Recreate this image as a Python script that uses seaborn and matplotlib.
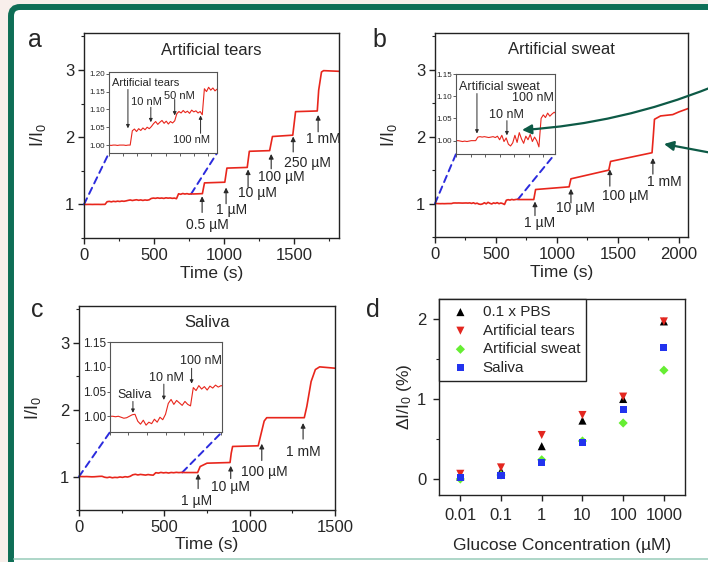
import numpy as np
import pandas as pd
import matplotlib
matplotlib.use("Agg")
import matplotlib.pyplot as plt
import matplotlib.transforms as mtransforms
from matplotlib.patches import FancyBboxPatch, ConnectionPatch, FancyArrowPatch
from matplotlib.ticker import MultipleLocator, NullFormatter, FormatStrFormatter, FixedLocator
import seaborn as sns

# ---------------- data ----------------
# Panel a : artificial tears (time in s, I/I0)
a_low_t = list(range(0, 766, 15))
a_low_y = [1.000, 0.999, 1.000, 1.000, 0.999, 1.000, 1.000, 1.000, 0.999, 1.000, 1.000,
           1.040, 1.045, 1.038, 1.046, 1.041, 1.048, 1.043, 1.050, 1.046, 1.052,
           1.060, 1.066, 1.058, 1.064, 1.069, 1.061, 1.067, 1.059, 1.066, 1.062, 1.068,
           1.088, 1.094, 1.090, 1.097, 1.091, 1.095, 1.089, 1.098, 1.093, 1.096, 1.090, 1.094, 1.085,
           1.158, 1.150, 1.162, 1.154, 1.160, 1.152, 1.157]
a_high_t = [780, 845, 860, 1005, 1020, 1165, 1180, 1325, 1345, 1490, 1510, 1665, 1675, 1695, 1710, 1820]
a_high_y = [1.155, 1.16, 1.32, 1.33, 1.54, 1.55, 1.79, 1.80, 2.01, 2.03, 2.38, 2.39, 2.70, 2.97, 2.99, 2.98]

# Panel b : artificial sweat
b_low_t = list(range(0, 676, 15))
b_low_y = [1.000, 1.000, 0.999, 0.998, 0.999, 0.998, 0.999, 1.000, 1.000, 1.000,
           1.008, 1.009, 1.008, 1.009, 1.008, 1.007, 1.008, 1.009, 1.007,
           1.010, 1.002, 1.012, 0.998, 1.006,
           0.992, 0.988, 0.995,
           1.012, 0.996, 1.018, 1.004, 0.994, 1.010, 1.002, 1.014, 0.998, 1.008, 1.000, 0.986,
           1.050, 1.058, 1.052, 1.062, 1.055, 1.060, 1.064]
b_high_t = [690, 810, 825, 1100, 1115, 1425, 1440, 1780, 1790, 1800, 1850, 1950, 2000, 2075]
b_high_y = [1.060, 1.06, 1.21, 1.25, 1.37, 1.50, 1.63, 1.76, 2.00, 2.26, 2.31, 2.33, 2.37, 2.42]

# Panel c : saliva
c_low_t = list(range(0, 601, 15))
c_low_y = [1.000, 1.000, 0.999, 1.000, 0.998, 0.996, 0.997, 1.000,
           1.003, 1.004,
           0.990, 0.984, 0.992, 0.982, 0.988, 0.985, 0.994, 0.988, 0.998, 0.993, 1.004,
           1.026, 1.034, 1.024, 1.032, 1.027, 1.022, 1.030, 1.024, 1.021,
           1.058, 1.052, 1.062, 1.055, 1.060, 1.053, 1.061, 1.057, 1.063, 1.059, 1.062]
c_high_t = [620, 695, 710, 750, 885, 892, 900, 1050, 1065, 1085, 1100, 1320, 1335, 1360, 1385, 1410, 1500]
c_high_y = [1.06, 1.06, 1.15, 1.20, 1.21, 1.35, 1.45, 1.46, 1.62, 1.83, 1.88, 1.88, 2.05, 2.42, 2.60, 2.64, 2.62]

# Panel d : calibration
conc = [0.01, 0.1, 1, 10, 100, 1000]
d_pbs = [0.03, 0.10, 0.41, 0.73, 1.00, 1.97]
d_tears = [0.065, 0.145, 0.55, 0.80, 1.03, 1.97]
d_sweat = [0.00, 0.05, 0.24, 0.475, 0.70, 1.36]
d_saliva = [0.02, 0.045, 0.21, 0.46, 0.87, 1.64]
d_labels = ['0.1 x PBS', 'Artificial tears', 'Artificial sweat', 'Saliva']
conc_ticklabels = ['0.01', '0.1', '1', '10', '100', '1000']

# annotation texts
a_main_labels = ['0.5 µM', '1 µM', '10 µM', '100 µM', '250 µM', '1 mM']
b_main_labels = ['1 µM', '10 µM', '100 µM', '1 mM']
c_main_labels = ['1 µM', '10 µM', '100 µM', '1 mM']

# ---------------- style ----------------
sns.set_style("ticks")
plt.rcParams['font.family'] = ['Liberation Sans', 'DejaVu Sans']
plt.rcParams['mathtext.fontset'] = 'custom'
plt.rcParams['mathtext.rm'] = 'Liberation Sans'
plt.rcParams['mathtext.it'] = 'Liberation Sans:italic'
plt.rcParams['mathtext.default'] = 'regular'

RED = '#e8261c'
BLUE = '#2b2bdd'
ARR = '#2a2a2a'
GREEN = '#0f6e56'
DKGREEN = '#0d5a46'

W, H = 708, 562
fig = plt.figure(figsize=(W / 100, H / 100), dpi=100)
fig.patch.set_facecolor('#f8efeb')
ident = mtransforms.IdentityTransform()
frame = FancyBboxPatch((11, -30), 760, H - 7 + 30, boxstyle='round,pad=0,rounding_size=9',
                       transform=ident, facecolor='white', edgecolor=GREEN, lw=4.3, zorder=-5)
fig.add_artist(frame)
fig.add_artist(plt.Line2D([14, W], [3.5, 3.5], transform=ident, color='#9fd0bf', lw=1.2, zorder=-4))


def px_rect(x0, y0, x1, y1):
    return [x0 / W, 1 - y1 / H, (x1 - x0) / W, (y1 - y0) / H]


def style_main(ax, xlim, xmajor):
    ax.set_xlim(*xlim)
    ax.set_ylim(0.5, 3.55)
    ax.xaxis.set_major_locator(MultipleLocator(xmajor))
    ax.xaxis.set_minor_locator(MultipleLocator(xmajor / 2))
    ax.set_yticks([1, 2, 3])
    ax.yaxis.set_minor_locator(MultipleLocator(0.5))
    ax.tick_params(which='major', length=4, width=1, labelsize=12, direction='out', pad=3, color='#222')
    ax.tick_params(which='minor', length=2.5, width=0.8, direction='out', color='#222')
    for s in ax.spines.values():
        s.set_linewidth(1)
        s.set_color('#222')
    ax.set_xlabel('Time (s)', fontsize=12.5, labelpad=2)
    ax.set_ylabel('I/I$_0$', fontsize=13, labelpad=12)


def arrow(ax, x, tail, tip, ms=7, lw=0.8):
    ax.annotate('', xy=(x, tip), xytext=(x, tail),
                arrowprops=dict(arrowstyle='-|>', color=ARR, lw=lw, mutation_scale=ms,
                                shrinkA=0, shrinkB=0))


def trace_panel(rect, t, y, xlim, xmajor, title, ins_rect, ins_xlim, ins_ylim, ins_yticks,
                ins_lsize, main_ann, main_labels, ins_ann, ins_fs):
    ax = fig.add_axes(rect)
    df = pd.DataFrame({'t': t, 'y': y})
    sns.lineplot(data=df, x='t', y='y', ax=ax, color=RED, lw=1.2, estimator=None, sort=False)
    style_main(ax, xlim, xmajor)
    ax.text(0.5, 0.917, title, transform=ax.transAxes, ha='center', va='center', fontsize=12)
    for (x, tail, tip, tx, ty), lab in zip(main_ann, main_labels):
        arrow(ax, x, tail, tip)
        ax.text(tx, ty, lab, ha='center', va='center', fontsize=10)
    axins = ax.inset_axes(ins_rect)
    sns.lineplot(data=df, x='t', y='y', ax=axins, color=RED, lw=0.8, estimator=None, sort=False)
    axins.set_xlim(*ins_xlim)
    axins.set_ylim(*ins_ylim)
    axins.set_yticks(ins_yticks)
    axins.yaxis.set_major_formatter(FormatStrFormatter('%.2f'))
    axins.xaxis.set_major_locator(MultipleLocator(100))
    axins.xaxis.set_major_formatter(NullFormatter())
    axins.tick_params(length=2, width=0.6, labelsize=ins_lsize, pad=1, color='#444')
    axins.set_xlabel('')
    axins.set_ylabel('')
    for s in axins.spines.values():
        s.set_linewidth(0.8)
        s.set_color('#555')
    for lab, x, tail, tip, tx, ty, ha in ins_ann:
        if x is not None:
            arrow(axins, x, tail, tip, ms=5, lw=0.7)
        axins.text(tx, ty, lab, ha=ha, va='center', fontsize=ins_fs)
    yend = float(np.interp(ins_xlim[1], t, y))
    for xyA, xyB in [((0, 1.0), (0, 0)), ((ins_xlim[1], yend), (1, 0))]:
        cp = ConnectionPatch(xyA=xyA, coordsA=ax.transData, xyB=xyB, coordsB=axins.transAxes,
                             color=BLUE, lw=1.4, ls=(0, (3.5, 2.5)))
        ax.add_artist(cp)
    return ax, axins


# ---- panel a ----
trace_panel(px_rect(84, 33, 339, 238), a_low_t + a_high_t, a_low_y + a_high_y, (0, 1820), 500,
            'Artificial tears', [0.098, 0.415, 0.424, 0.395], (0, 765), (0.978, 1.205),
            [1.00, 1.05, 1.10, 1.15, 1.20], 5.8,
            [(843, 0.88, 1.12, 879, 0.69), (1014, 1.01, 1.25, 1050, 0.92),
             (1171, 1.26, 1.52, 1236, 1.17), (1336, 1.53, 1.75, 1406, 1.41),
             (1493, 1.78, 2.01, 1596, 1.61), (1671, 2.08, 2.33, 1707, 1.98)],
            a_main_labels,
            [('Artificial tears', 134, 1.156, 1.047, 21, 1.174, 'left'),
             ('10 nM', 296, 1.106, 1.064, 268, 1.121, 'center'),
             ('50 nM', 465, 1.128, 1.083, 500, 1.138, 'center'),
             ('100 nM', 648, 1.033, 1.083, 584, 1.014, 'center')], 8)

# ---- panel b ----
trace_panel(px_rect(435, 33, 688, 237), b_low_t + b_high_t, b_low_y + b_high_y, (0, 2075), 500,
            'Artificial sweat', [0.083, 0.407, 0.391, 0.392], (0, 680), (0.97, 1.15),
            [1.00, 1.05, 1.10, 1.15], 5.8,
            [(820, 0.82, 1.03, 861, 0.71), (1115, 1.01, 1.22, 1148, 0.93),
             (1434, 1.26, 1.51, 1557, 1.12), (1787, 1.44, 1.68, 1877, 1.32)],
            b_main_labels,
            [('Artificial sweat', 144, 1.106, 1.016, 20, 1.120, 'left'),
             ('10 nM', 350, 1.045, 1.012, 350, 1.057, 'center'),
             ('100 nM', None, None, None, 529, 1.095, 'center')], 9)

# ---- panel c ----
trace_panel(px_rect(79, 306, 335, 510), c_low_t + c_high_t, c_low_y + c_high_y, (0, 1500), 500,
            'Saliva', [0.121, 0.382, 0.4375, 0.441], (0, 605), (0.968, 1.15),
            [1.00, 1.05, 1.10, 1.15], 8.5,
            [(698, 0.82, 1.04, 690, 0.64), (889, 0.97, 1.16, 889, 0.84),
             (1071, 1.24, 1.49, 1083, 1.07), (1313, 1.56, 1.80, 1313, 1.37)],
            c_main_labels,
            [('Saliva', 124, 1.030, 1.007, 131, 1.0425, 'center'),
             ('10 nM', 291, 1.065, 1.033, 307, 1.077, 'center'),
             ('100 nM', 441, 1.097, 1.066, 490, 1.111, 'center')], 9)

# ---- panel d ----
axd = fig.add_axes(px_rect(439, 299, 685, 495))
series = [(d_pbs, 'black', '^', 34), (d_tears, '#e3261f', 'v', 34),
          (d_sweat, '#66ee33', 'D', 22), (d_saliva, '#2233ee', 's', 26)]
for (vals, col, mk, sz), lab in zip(series, d_labels):
    sns.scatterplot(x=conc, y=vals, ax=axd, color=col, marker=mk, s=sz, edgecolor='none',
                    label=lab, zorder=3)
axd.set_xscale('log')
axd.set_xlim(0.003, 3300)
axd.set_ylim(-0.2, 2.25)
axd.xaxis.set_major_locator(FixedLocator(conc))
axd.set_xticklabels(conc_ticklabels)
axd.set_yticks([0, 1, 2])
axd.yaxis.set_minor_locator(MultipleLocator(0.5))
axd.tick_params(which='major', length=4, width=1, labelsize=12, direction='out', pad=5, color='#222')
axd.tick_params(which='minor', length=2.5, width=0.8, direction='out', color='#222')
for s in axd.spines.values():
    s.set_linewidth(1)
    s.set_color('#222')
axd.set_xlabel('Glucose Concentration (µM)', fontsize=12.5, labelpad=11)
axd.set_ylabel('ΔI/I$_0$ (%)', fontsize=12.5, labelpad=2)
leg = axd.legend(loc='upper left', bbox_to_anchor=(0, 1), borderaxespad=0, frameon=True,
                 fancybox=False, edgecolor='#222', fontsize=11, handlelength=2,
                 handletextpad=0.46, borderpad=0.4, labelspacing=0.3, framealpha=1)
leg.get_frame().set_linewidth(1)

# ---- panel letters ----
for lab, x, y in [('a', 35, 47), ('b', 379, 47), ('c', 37, 317), ('d', 373, 317)]:
    fig.text(x / W, 1 - y / H, lab, fontsize=18, ha='center', va='baseline')

# ---- green pointer arrows ----
for (x0, y0), (x1, y1), rad in [((712, H - 87), (522, H - 130), -0.08),
                                ((712, H - 153), (664, H - 144), 0.0)]:
    fa = FancyArrowPatch((x0, y0), (x1, y1), transform=ident, connectionstyle=f'arc3,rad={rad}',
                         arrowstyle='-|>', mutation_scale=14, color=DKGREEN, lw=1.6, zorder=10,
                         shrinkA=0, shrinkB=0)
    fig.add_artist(fa)

fig.savefig('out.png', dpi=100, facecolor=fig.get_facecolor())
